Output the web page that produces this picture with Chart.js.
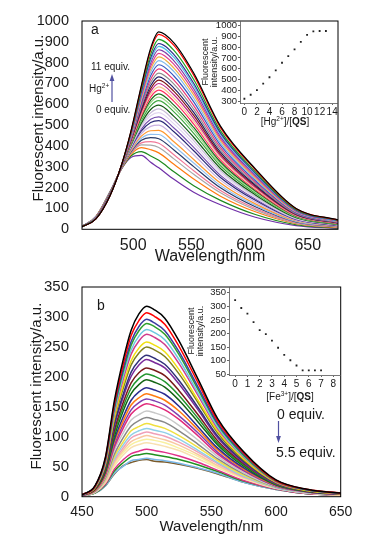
<!DOCTYPE html>
<html>
<head>
<meta charset="utf-8">
<script src="https://cdn.jsdelivr.net/npm/chart.js@4.4.1/dist/chart.umd.min.js"></script>
<style>
  body { margin: 0; background: #fff; }
  #page { position: relative; width: 387px; height: 540px; overflow: hidden; font-family: "Liberation Sans", Arial, sans-serif; color: #1a1a1a; }
  canvas { position: absolute; }
  .txt { position: absolute; white-space: nowrap; line-height: 1; }
  .ctr { transform: translate(-50%, -50%); }
  .ytitle { transform: translate(-50%, -50%) rotate(-90deg); font-size: 15px; }
  sup { font-size: 0.65em; vertical-align: 0.55em; line-height: 0; }
  svg { position: absolute; left: 0; top: 0; }
</style>
</head>
<body>
<div id="page">
  <canvas id="mainA" width="387" height="270" style="left:0;top:0"></canvas>
  <canvas id="insetA" width="187" height="135" style="left:200px;top:0"></canvas>
  <canvas id="mainB" width="387" height="270" style="left:0;top:270px"></canvas>
  <canvas id="insetB" width="202" height="130" style="left:185px;top:280px"></canvas>

  <div class="txt ytitle" style="left:37px;top:118px">Fluorescent intensity/a.u.</div>
  <div class="txt ytitle" style="left:35px;top:386px">Fluorescent intensity/a.u.</div>

  <div class="txt" style="left:91px;top:22px;font-size:14px">a</div>
  <div class="txt" style="left:91px;top:62px;font-size:10px">11 equiv.</div>
  <div class="txt" style="left:89px;top:84px;font-size:10px">Hg<sup>2+</sup></div>
  <div class="txt" style="left:96px;top:105px;font-size:10px">0 equiv.</div>
  <div class="txt ctr" style="left:285px;top:122px;font-size:10px">[Hg<sup>2+</sup>]/[<b>QS</b>]</div>

  <div class="txt" style="left:97px;top:298px;font-size:14px">b</div>
  <div class="txt" style="left:277px;top:407px;font-size:14px">0 equiv.</div>
  <div class="txt" style="left:276px;top:445px;font-size:14px">5.5 equiv.</div>
  <div class="txt ctr" style="left:290px;top:397px;font-size:10px">[Fe<sup>3+</sup>]/[<b>QS</b>]</div>

  <svg width="387" height="540">
    <line x1="112" y1="102" x2="112" y2="80" stroke="#5050a0" stroke-width="1.2"/>
    <polygon points="112,74 109.6,81 114.4,81" fill="#5050a0"/>
    <line x1="278.5" y1="421" x2="278.5" y2="437" stroke="#5050a0" stroke-width="1.2"/>
    <polygon points="278.5,443 276.1,436 280.9,436" fill="#5050a0"/>
  </svg>
</div>

<script>
// ---- panel a: Hg2+ titration spectra ----
const wavelengthsA = [456, 468, 480, 490, 498, 507, 515, 522, 535, 552, 575, 605, 640, 676];
// one row per curve, 11 equiv. (top) down to 0 equiv. (bottom)
const spectraA = [
  [12, 50, 160, 310, 470, 690, 870, 948, 895, 750, 495, 290, 100, 45],
  [12, 50, 160, 310, 468, 684, 860, 936, 883, 740, 488, 286, 99, 44],
  [12, 51, 161, 309, 463, 672, 840, 912, 859, 719, 474, 277, 95, 43],
  [12, 51, 162, 308, 459, 661, 823, 892, 839, 701, 463, 270, 93, 42],
  [12, 51, 162, 308, 457, 654, 811, 878, 825, 689, 455, 265, 91, 41],
  [12, 52, 163, 307, 454, 646, 798, 862, 809, 675, 445, 259, 89, 40],
  [12, 52, 163, 307, 450, 637, 783, 845, 792, 660, 435, 253, 87, 39],
  [12, 52, 164, 306, 447, 628, 769, 828, 774, 645, 426, 247, 85, 38],
  [12, 53, 164, 306, 444, 619, 754, 810, 757, 629, 415, 241, 83, 36],
  [12, 53, 165, 305, 440, 609, 737, 790, 736, 612, 404, 234, 80, 35],
  [13, 53, 165, 305, 436, 599, 720, 770, 716, 594, 392, 227, 78, 34],
  [13, 54, 166, 304, 432, 589, 704, 750, 697, 577, 381, 220, 75, 33],
  [13, 54, 167, 303, 429, 579, 689, 732, 678, 561, 370, 213, 73, 31],
  [13, 54, 167, 303, 426, 571, 675, 716, 662, 547, 361, 208, 71, 30],
  [13, 55, 168, 302, 423, 563, 662, 700, 646, 533, 352, 202, 69, 29],
  [13, 55, 168, 302, 420, 555, 649, 684, 630, 519, 343, 196, 67, 28],
  [13, 55, 169, 301, 416, 546, 635, 668, 614, 505, 333, 190, 65, 27],
  [13, 55, 169, 301, 413, 537, 620, 650, 596, 489, 323, 184, 63, 26],
  [13, 56, 170, 300, 410, 530, 608, 635, 581, 476, 314, 179, 61, 25],
  [13, 56, 170, 300, 407, 521, 593, 618, 564, 461, 305, 173, 59, 24],
  [13, 56, 171, 299, 403, 509, 575, 596, 542, 442, 292, 165, 56, 23],
  [13, 57, 171, 299, 399, 500, 559, 578, 524, 426, 281, 158, 54, 22],
  [13, 57, 172, 298, 396, 491, 545, 560, 506, 410, 271, 152, 51, 21],
  [13, 58, 172, 298, 392, 481, 528, 540, 486, 393, 259, 145, 49, 19],
  [13, 58, 173, 297, 389, 472, 513, 522, 468, 377, 249, 139, 47, 18],
  [13, 58, 174, 296, 384, 460, 494, 500, 446, 358, 236, 131, 44, 17],
  [13, 59, 174, 296, 379, 447, 473, 475, 420, 335, 222, 122, 41, 15],
  [14, 59, 175, 295, 376, 437, 456, 455, 400, 318, 210, 115, 38, 14],
  [14, 59, 176, 294, 372, 427, 440, 435, 381, 301, 199, 108, 36, 13],
  [14, 60, 176, 294, 368, 415, 421, 413, 358, 281, 186, 100, 33, 11],
  [14, 60, 177, 293, 364, 405, 404, 393, 338, 264, 175, 93, 30, 10],
  [14, 61, 178, 292, 359, 392, 382, 367, 312, 241, 159, 84, 27, 8],
  [14, 61, 179, 291, 352, 373, 352, 331, 276, 209, 139, 71, 22, 6],
  [14, 62, 180, 290, 345, 355, 322, 295, 240, 178, 118, 58, 18, 4]
];
const colorsA = [
  '#000000', '#ff0000', '#20a020', '#30308c', '#50c0e8', '#8040a8', '#e04090', '#f0b040',
  '#80b8e8', '#3858c0', '#e83878', '#909090', '#202066', '#801818', '#c02888', '#f6c490',
  '#ff3060', '#1c6e1c', '#98d888', '#40a840', '#145a14', '#c8bcd8', '#e2d6f0', '#7850b0',
  '#2a2a78', '#c8b0e0', '#ff9830', '#90c0f0', '#283a68', '#f07898', '#a8a8a8', '#ff7a10',
  '#1e8a1e', '#7030a8'
];
const xTicksA = [500, 550, 600, 650];
const yTicksA = [0, 100, 200, 300, 400, 500, 600, 700, 800, 900, 1000];

// inset a: peak intensity vs [Hg2+]/[QS]
const ratioA = [0, 1, 2, 3, 4, 5, 6, 7, 8, 9, 10, 11, 12, 13];
const peakA = [324, 361, 403, 464, 522, 586, 656, 717, 778, 848, 912, 945, 948, 948];
const insetXTicksA = [0, 2, 4, 6, 8, 10, 12, 14];
const insetYTicksA = [300, 400, 500, 600, 700, 800, 900, 1000];

// ---- panel b: Fe3+ titration spectra ----
const wavelengthsB = [450, 460, 468, 475, 482, 488, 494, 500, 506, 514, 525, 540, 555, 575, 600, 625, 650];
// 0 equiv. (top) down to 5.5 equiv. (bottom)
const spectraB = [
  [3, 18, 65, 160, 230, 278, 305, 318, 312, 298, 260, 195, 130, 75, 28, 12, 6],
  [3, 17, 63, 155, 222, 269, 294, 307, 301, 288, 251, 189, 126, 73, 27, 12, 6],
  [3, 17, 61, 150, 215, 259, 284, 296, 290, 277, 242, 182, 122, 71, 27, 11, 6],
  [3, 17, 60, 146, 210, 253, 277, 289, 284, 271, 237, 178, 120, 69, 26, 11, 6],
  [3, 16, 58, 141, 203, 245, 268, 279, 274, 262, 229, 172, 116, 67, 26, 11, 6],
  [3, 16, 56, 138, 197, 238, 260, 271, 266, 254, 222, 168, 113, 66, 25, 11, 5],
  [3, 15, 54, 132, 188, 227, 248, 258, 253, 242, 212, 160, 109, 63, 24, 10, 5],
  [3, 15, 52, 128, 182, 220, 240, 250, 245, 234, 205, 156, 106, 61, 24, 10, 5],
  [3, 14, 50, 121, 172, 208, 227, 236, 231, 221, 194, 148, 101, 59, 23, 10, 5],
  [3, 14, 49, 118, 167, 201, 220, 229, 224, 215, 188, 144, 98, 57, 22, 10, 5],
  [3, 13, 46, 111, 158, 190, 207, 215, 211, 202, 177, 136, 93, 55, 22, 9, 5],
  [3, 13, 44, 106, 151, 181, 197, 205, 201, 192, 169, 130, 89, 53, 21, 9, 5],
  [3, 12, 42, 101, 144, 172, 187, 195, 191, 183, 161, 124, 86, 51, 20, 9, 5],
  [2, 12, 40, 95, 134, 161, 175, 182, 178, 171, 151, 116, 81, 48, 20, 8, 4],
  [2, 11, 38, 91, 127, 153, 165, 172, 168, 161, 143, 111, 78, 46, 19, 8, 4],
  [2, 11, 37, 86, 121, 145, 157, 163, 160, 153, 135, 106, 74, 44, 18, 8, 4],
  [2, 10, 35, 82, 115, 138, 149, 155, 152, 145, 129, 101, 71, 43, 18, 8, 4],
  [2, 10, 33, 77, 107, 128, 137, 143, 140, 134, 119, 94, 67, 40, 17, 7, 4],
  [2, 9, 31, 71, 99, 118, 127, 132, 129, 124, 110, 87, 63, 38, 16, 7, 4],
  [2, 9, 29, 67, 92, 110, 117, 122, 119, 114, 102, 82, 60, 36, 16, 7, 4],
  [2, 8, 28, 63, 87, 103, 110, 114, 111, 107, 96, 77, 57, 34, 15, 6, 4],
  [2, 8, 27, 60, 82, 98, 104, 108, 105, 101, 91, 74, 55, 33, 15, 6, 4],
  [2, 8, 25, 57, 78, 92, 98, 102, 99, 95, 86, 70, 52, 32, 15, 6, 3],
  [2, 8, 24, 54, 74, 87, 93, 96, 94, 90, 81, 67, 50, 31, 14, 6, 3],
  [2, 7, 23, 51, 70, 82, 87, 90, 88, 84, 77, 63, 48, 30, 14, 6, 3],
  [2, 7, 21, 46, 62, 72, 76, 79, 77, 74, 68, 57, 44, 27, 13, 5, 3],
  [2, 6, 20, 43, 57, 67, 70, 72, 70, 67, 62, 53, 42, 26, 13, 5, 3],
  [2, 6, 18, 39, 51, 60, 62, 64, 62, 60, 56, 48, 39, 24, 12, 5, 3],
  [2, 6, 18, 38, 52, 57, 61, 62, 59, 58, 54, 47, 38, 24, 12, 5, 3]
];
const colorsB = [
  '#000000', '#ff0000', '#3c3ca0', '#2ca02c', '#6cc8e0', '#d03c8c', '#f0e010', '#808020',
  '#30307a', '#7a2a9a', '#7a1a1a', '#22962e', '#146414', '#2c2c90', '#ff7a10', '#8040b0',
  '#e02a7a', '#c8c8c8', '#888888', '#f0e040', '#90d0e8', '#f0a0b8', '#f8c8a0', '#f8f0a0',
  '#f8e0b0', '#e0308a', '#209020', '#7ab8e8', '#7a5a2a'
];
const xTicksB = [450, 500, 550, 600, 650];
const yTicksB = [0, 50, 100, 150, 200, 250, 300, 350];

// inset b: peak intensity vs [Fe3+]/[QS]
const ratioB = [0, 0.5, 1, 1.5, 2, 2.5, 3, 3.5, 4, 4.5, 5, 5.5, 6, 6.5, 7];
const peakB = [323, 294, 273, 242, 213, 198, 174, 148, 122, 102, 83, 65, 65, 65, 65];
const insetXTicksB = [0, 1, 2, 3, 4, 5, 6, 7, 8];
const insetYTicksB = [50, 100, 150, 200, 250, 300, 350];

Chart.defaults.font.family = '"Liberation Sans", Arial, sans-serif';
Chart.defaults.color = '#1a1a1a';
Chart.defaults.animation = false;

const framePlugin = {
  id: 'frame',
  afterDraw(chart) {
    const { ctx, chartArea: a } = chart;
    ctx.save();
    ctx.strokeStyle = '#000';
    ctx.lineWidth = 1;
    ctx.strokeRect(a.left, a.top, a.right - a.left, a.bottom - a.top);
    ctx.restore();
  }
};

const setTicks = vals => scale => { scale.ticks = vals.map(v => ({ value: v })); };
const setWidth = w => scale => { scale.width = w; };
const setHeight = h => scale => { scale.height = h; };
const plain = v => String(v);

function spectraChart(id, wl, rows, colors, opt) {
  const datasets = rows.map((row, i) => ({
    data: row.map((y, j) => ({ x: wl[j], y })),
    borderColor: colors[i],
    borderWidth: opt.lineWidth,
    pointRadius: 0,
    fill: false,
    cubicInterpolationMode: 'monotone'
  }));
  return new Chart(document.getElementById(id), {
    type: 'line',
    data: { datasets },
    plugins: [framePlugin],
    options: {
      responsive: false,
      events: [],
      layout: { padding: { left: 0, right: opt.padRight, top: opt.padTop, bottom: 0 } },
      plugins: { legend: { display: false }, tooltip: { enabled: false } },
      scales: {
        x: {
          type: 'linear', min: opt.xMin, max: opt.xMax,
          afterBuildTicks: setTicks(opt.xTicks),
          afterFit: setHeight(opt.xHeight),
          grid: { display: false },
          border: { display: false },
          ticks: { font: { size: opt.xTickSize }, padding: opt.xTickPad, maxRotation: 0, autoSkip: false, callback: plain },
          title: { display: true, text: 'Wavelength/nm', font: { size: opt.titleSize, lineHeight: 1 }, padding: { top: 0, bottom: opt.titlePad } }
        },
        y: {
          type: 'linear', min: opt.yMin, max: opt.yMax,
          afterBuildTicks: setTicks(opt.yTicks),
          afterFit: setWidth(82),
          grid: { display: false },
          border: { display: false },
          ticks: { font: { size: opt.yTickSize }, padding: 5, autoSkip: false, callback: plain }
        }
      }
    }
  });
}

function insetChart(id, xs, ys, opt) {
  return new Chart(document.getElementById(id), {
    type: 'scatter',
    data: { datasets: [{
      data: xs.map((x, i) => ({ x, y: ys[i] })),
      pointStyle: 'rect', pointRadius: 1.3,
      backgroundColor: '#222', borderColor: '#222', borderWidth: 0
    }] },
    options: {
      responsive: false,
      events: [],
      layout: { padding: { left: 0, right: opt.padRight, top: opt.padTop, bottom: 0 } },
      plugins: { legend: { display: false }, tooltip: { enabled: false } },
      scales: {
        x: {
          type: 'linear', min: opt.xMin, max: opt.xMax,
          afterBuildTicks: setTicks(opt.xTicks),
          afterFit: setHeight(opt.xHeight),
          grid: { drawOnChartArea: false, drawTicks: true, tickLength: 2, color: '#666' },
          border: { display: true, color: '#555', width: 0.8 },
          ticks: { font: { size: 10 }, padding: 1, maxRotation: 0, autoSkip: false, callback: plain }
        },
        y: {
          type: 'linear', min: opt.yMin, max: opt.yMax,
          afterBuildTicks: setTicks(opt.yTicks),
          afterFit: setWidth(opt.yWidth),
          grid: { drawOnChartArea: false, drawTicks: true, tickLength: 2, color: '#666' },
          border: { display: true, color: '#555', width: 0.8 },
          ticks: { font: { size: 9.5 }, padding: 1, autoSkip: false, callback: plain },
          title: { display: true, text: ['Fluorescent', 'intensity/a.u.'], font: { size: 9, lineHeight: 1 }, padding: { top: opt.titlePad, bottom: 0 } }
        }
      }
    }
  });
}

spectraChart('mainA', wavelengthsA, spectraA, colorsA, {
  lineWidth: 1.2, padRight: 49, padTop: 21, xMin: 456, xMax: 676, yMin: 0, yMax: 1000,
  xTicks: xTicksA, yTicks: yTicksA, xHeight: 40.7, xTickSize: 16, yTickSize: 14.5,
  xTickPad: -1, titleSize: 16, titlePad: 5
});
spectraChart('mainB', wavelengthsB, spectraB, colorsB, {
  lineWidth: 1.5, padRight: 46.3, padTop: 17, xMin: 450, xMax: 650, yMin: 0, yMax: 350,
  xTicks: xTicksB, yTicks: yTicksB, xHeight: 43.3, xTickSize: 14, yTickSize: 15,
  xTickPad: -1, titleSize: 15, titlePad: 6
});
insetChart('insetA', ratioA, peakA, {
  padRight: 49.5, padTop: 21, xMin: -0.7, xMax: 14.85, yMin: 285, yMax: 1040,
  xTicks: insetXTicksA, yTicks: insetYTicksA, xHeight: 32, yWidth: 40, titlePad: 1.5
});
insetChart('insetB', ratioB, peakB, {
  padRight: 46.3, padTop: 7, xMin: -0.5, xMax: 8.6, yMin: 48, yMax: 371,
  xTicks: insetXTicksB, yTicks: insetYTicksB, xHeight: 35, yWidth: 44, titlePad: 2.5
});
</script>
</body>
</html>
